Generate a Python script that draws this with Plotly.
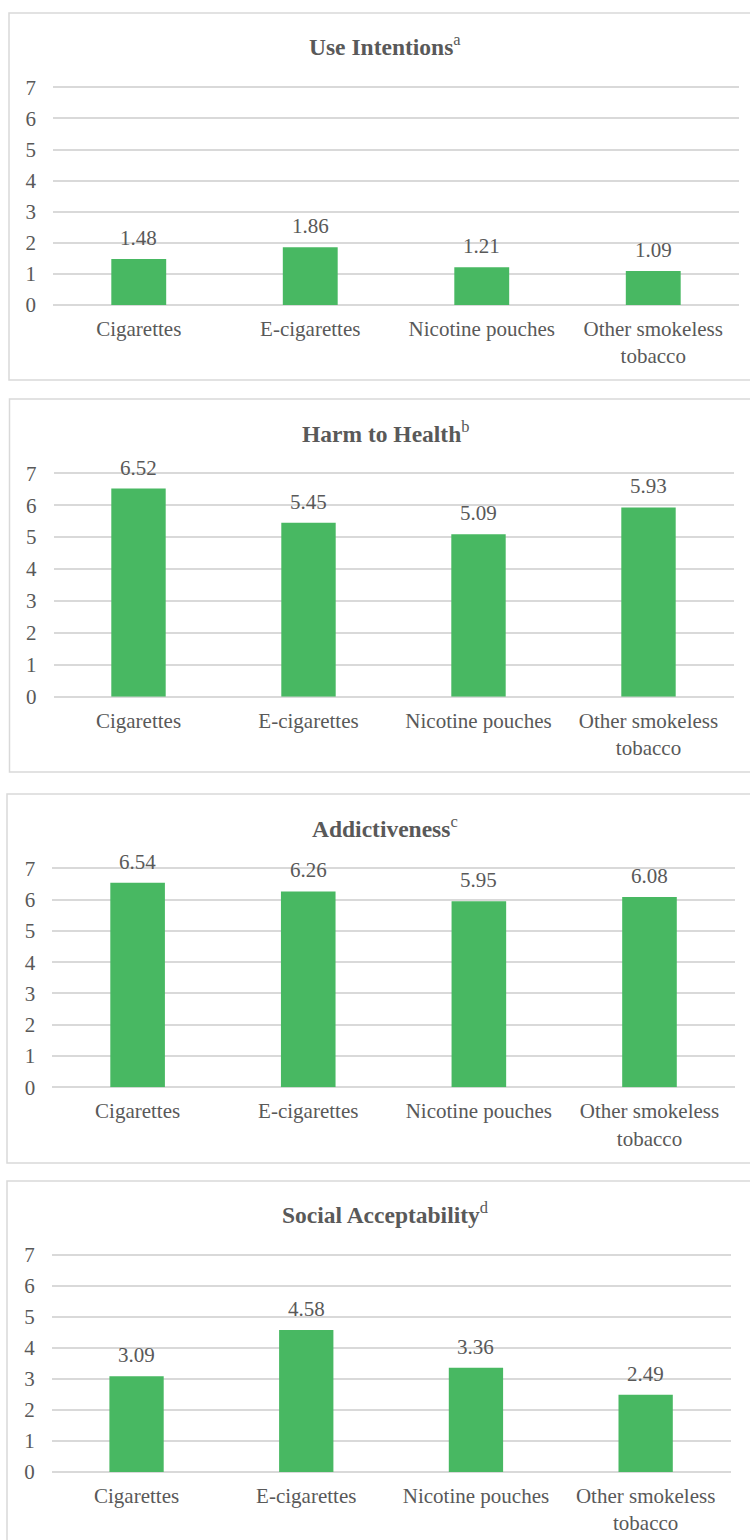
import plotly.graph_objects as go

categories = ["Cigarettes", "E-cigarettes", "Nicotine pouches", "Other smokeless<br>tobacco"]
use_intentions = [1.48, 1.86, 1.21, 1.09]
harm_to_health = [6.52, 5.45, 5.09, 5.93]
addictiveness = [6.54, 6.26, 5.95, 6.08]
social_acceptability = [3.09, 4.58, 3.36, 2.49]
titles = ["<b>Use Intentions</b><sup>a</sup>", "<b>Harm to Health</b><sup>b</sup>",
          "<b>Addictiveness</b><sup>c</sup>", "<b>Social Acceptability</b><sup>d</sup>"]
y_ticks = [0, 1, 2, 3, 4, 5, 6, 7]

W, H = 750, 1540
FONT = "Liberation Serif"
TXT = "#595959"
GRID = "#D9D9D9"
BAR = "#48B862"
EXTRA = 0.07  # small headroom so the top gridline (7) is drawn
FS = 21
FS_TITLE = 23.5


def px(x):
    return x / W


def py(y):
    return 1 - y / H


# panel geometry in pixels: box (x0, y0, y1), plot (x0, x1, y of 7, y of 0), title y
panels = [
    dict(box=(9, 13, 380), plot=(53, 739, 87.3, 305), ty=45),
    dict(box=(9.5, 399, 772), plot=(53.5, 733.5, 473.3, 696.7), ty=431.7),
    dict(box=(7, 794, 1163), plot=(52.3, 734.8, 868.3, 1087.3), ty=826.7),
    dict(box=(7, 1181, 1560), plot=(51.7, 730.5, 1255, 1472), ty=1213.3),
]
series = [use_intentions, harm_to_health, addictiveness, social_acceptability]

fig = go.Figure()
layout = dict(width=W, height=H, autosize=False,
              margin=dict(l=0, r=0, t=0, b=0, pad=0, autoexpand=False),
              paper_bgcolor="white", plot_bgcolor="white", showlegend=False,
              bargap=0.68, font=dict(family=FONT, color=TXT, size=FS))
shapes = []
annotations = []
for i, (p, vals, title) in enumerate(zip(panels, series, titles)):
    n = "" if i == 0 else str(i + 1)
    xa, ya = "x" + n, "y" + n
    x0, x1, p7, p0 = p["plot"]
    ppu = (p0 - p7) / 7.0
    ptop = p7 - EXTRA * ppu
    layout["xaxis" + n] = dict(domain=[px(x0), px(x1)], anchor=ya, showgrid=False, showline=False,
                               zeroline=False, ticks="", ticklabelstandoff=9, automargin=False,
                               tickfont=dict(family=FONT, size=FS, color=TXT), fixedrange=True)
    layout["yaxis" + n] = dict(domain=[py(p0), py(ptop)], anchor=xa, range=[0, 7 + EXTRA],
                               tickvals=y_ticks, showgrid=True, gridcolor=GRID, gridwidth=1.5,
                               zeroline=True, zerolinecolor=GRID, zerolinewidth=1.5, showline=False,
                               ticks="", ticklabelstandoff=16, automargin=False,
                               tickfont=dict(family=FONT, size=FS, color=TXT), fixedrange=True)
    fig.add_trace(go.Bar(x=categories, y=vals, xaxis=xa, yaxis=ya, marker=dict(color=BAR, line=dict(width=0)),
                         cliponaxis=False, hoverinfo="skip"))
    for c, v in zip(categories, vals):
        annotations.append(dict(x=c, y=v, xref=xa, yref=ya, text=f"{v:.2f}", showarrow=False,
                                yanchor="bottom", yshift=7, font=dict(family=FONT, size=FS, color=TXT)))
    bx0, by0, by1 = p["box"]
    shapes.append(dict(type="rect", xref="paper", yref="paper", x0=px(bx0), x1=px(780),
                       y0=py(by1), y1=py(by0), line=dict(color=GRID, width=1.5),
                       fillcolor="rgba(0,0,0,0)", layer="below"))
    annotations.append(dict(x=px(385), y=py(p["ty"]), xref="paper", yref="paper", text=title,
                            showarrow=False, xanchor="center", yanchor="middle",
                            font=dict(family=FONT, size=FS_TITLE, color=TXT)))
layout["shapes"] = shapes
layout["annotations"] = annotations
fig.update_layout(**layout)
fig.write_html("out.html", config={"displayModeBar": False})
